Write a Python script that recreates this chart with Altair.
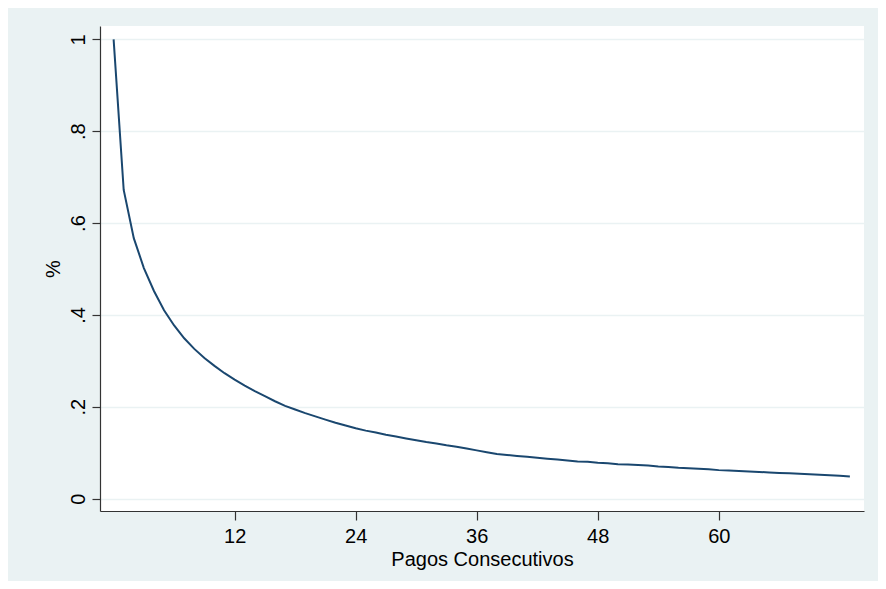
import altair as alt
import pandas as pd

# Pagos consecutivos (x) and share (%)
pagos = list(range(0, 74))
porcentaje = [
    1.000, 0.672, 0.567, 0.502, 0.452, 0.410, 0.377, 0.349, 0.326, 0.306,
    0.289, 0.273, 0.259, 0.246, 0.234, 0.223, 0.212, 0.202, 0.194, 0.186,
    0.179, 0.172, 0.165, 0.159, 0.153, 0.148, 0.144, 0.139, 0.135, 0.131,
    0.127, 0.123, 0.120, 0.116, 0.113, 0.109, 0.105, 0.101, 0.097, 0.095,
    0.093, 0.091, 0.089, 0.087, 0.085, 0.083, 0.081, 0.080, 0.078, 0.077,
    0.075, 0.074, 0.073, 0.072, 0.070, 0.069, 0.067, 0.066, 0.065, 0.064,
    0.062, 0.061, 0.060, 0.059, 0.058, 0.057, 0.056, 0.055, 0.054, 0.053,
    0.052, 0.051, 0.050, 0.048,
]
x_ticks = [12, 24, 36, 48, 60]
y_ticks = [0, 0.2, 0.4, 0.6, 0.8, 1.0]

df = pd.DataFrame({"pago": pagos, "pct": porcentaje})

FONT = "Liberation Sans"
BG = "#EAF2F3"

chart = (
    alt.Chart(df)
    .mark_line(color="#1A476F", strokeWidth=2)
    .encode(
        x=alt.X(
            "pago:Q",
            scale=alt.Scale(domain=[-1.35, 74.4], nice=False, zero=False),
            axis=alt.Axis(
                values=x_ticks,
                title="Pagos Consecutivos",
                grid=False,
                tickSize=9,
                labelPadding=6,
                labelFontSize=20,
                titleFontSize=20,
                titleFontWeight="normal",
                titleBaseline="alphabetic",
                titleY=54,
                labelFlush=False,
            ),
        ),
        y=alt.Y(
            "pct:Q",
            scale=alt.Scale(domain=[-0.027, 1.029], nice=False, zero=False),
            axis=alt.Axis(
                values=y_ticks,
                title="%",
                grid=True,
                gridColor=BG,
                gridWidth=1.6,
                tickSize=8,
                labelAngle=270,
                labelAlign="center",
                labelBaseline="bottom",
                labelPadding=4,
                labelFontSize=20,
                labelFlush=False,
                labelExpr="datum.value == 0 ? '0' : datum.value == 1 ? '1' : '.' + round(datum.value * 10)",
                titleFontSize=20,
                titleFontWeight="normal",
                titleAngle=270,
                titleBaseline="bottom",
                titleAlign="center",
                titleX=-37,
            ),
        ),
    )
    .properties(
        width=764,
        height=485,
        autosize="none",
        padding={"left": 92, "top": 18, "right": 14, "bottom": 70},
        background=BG,
    )
    .configure_view(fill="white", strokeWidth=0)
    .configure_axis(
        domainColor="#333333",
        domainWidth=1.2,
        tickColor="#333333",
        tickWidth=1.2,
        labelColor="black",
        titleColor="black",
        labelFont=FONT,
        titleFont=FONT,
    )
)

chart.save("out.html", embed_options={"renderer": "svg", "actions": False})
